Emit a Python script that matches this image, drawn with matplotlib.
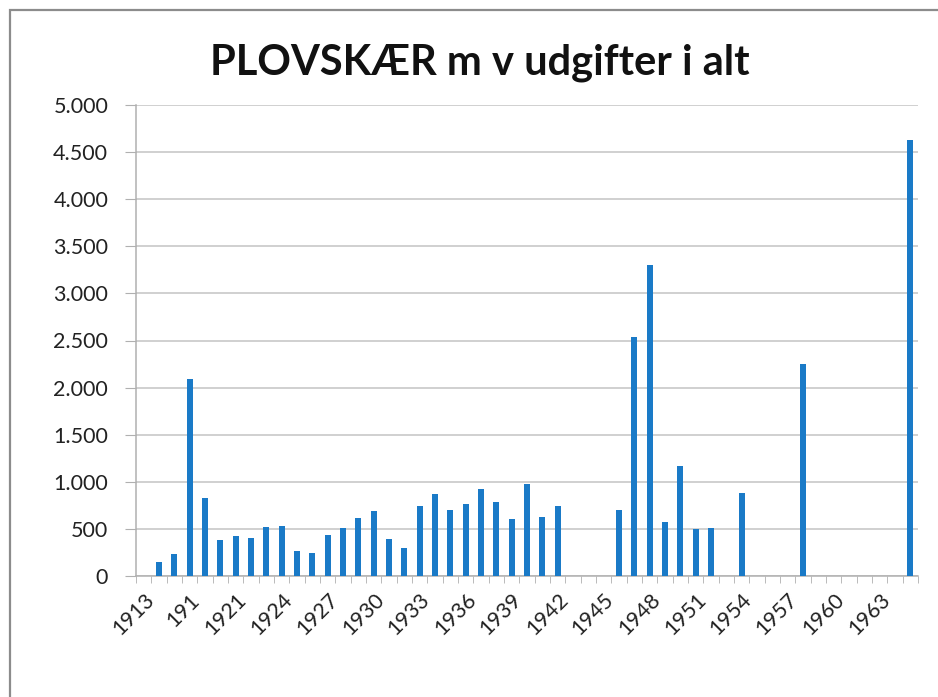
import matplotlib
matplotlib.use("Agg")
import matplotlib.pyplot as plt
import numpy as np
from matplotlib.patches import Rectangle

plt.rcParams['font.family'] = ['Lato', 'DejaVu Sans']

# Categories (years); only every third is labelled in the reference
categories = (["1913", "1914", "1915", "191", "1919", "1920"]
              + [str(y) for y in range(1921, 1966)])
values = [0, 150, 230, 2090, 830, 380, 420, 400, 520, 530,
          270, 245, 430, 510, 620, 690, 390, 300, 740, 870,
          700, 760, 925, 790, 605, 975, 625, 740, 0, 0,
          0, 700, 2535, 3300, 575, 1170, 500, 510, 0, 885,
          0, 0, 0, 2250, 0, 0, 0, 0, 0, 0,
          4630]
title = "PLOVSKÆR m v udgifter i alt"
yticks = [0, 500, 1000, 1500, 2000, 2500, 3000, 3500, 4000, 4500, 5000]
ytick_labels = ["0", "500", "1.000", "1.500", "2.000", "2.500", "3.000",
                "3.500", "4.000", "4.500", "5.000"]

W, H = 938, 697
fig = plt.figure(figsize=(W / 100, H / 100), dpi=100)
fig.patch.set_facecolor("white")

# outer chart frame
fig.patches.append(Rectangle((10 / W, -0.05), 1.1, 1 - 10 / H + 0.05,
                             transform=fig.transFigure, fill=False,
                             edgecolor="#8c8c8c", linewidth=1.6))

ax = fig.add_axes([136 / W, 1 - 576 / H, (918 - 136) / W, (576 - 105) / H])
x = np.arange(len(categories))
ax.bar(x, values, width=0.38, color="#1a7ac7", zorder=3)

ax.set_xlim(-0.5, len(categories) - 0.5)
ax.set_ylim(0, 5000)
ax.set_yticks(yticks)
ax.set_yticklabels(ytick_labels)
ax.yaxis.grid(True, color="#c4c4c4", linewidth=1.1, zorder=0)
ax.set_axisbelow(True)

for s in ["top", "right"]:
    ax.spines[s].set_visible(False)
ax.spines["left"].set_color("#b0b0b0")
ax.spines["bottom"].set_color("#b0b0b0")
ax.spines["left"].set_linewidth(1.1)
ax.spines["bottom"].set_linewidth(1.1)

ax.tick_params(axis="y", length=8, color="#b0b0b0", labelsize=15.5,
               labelcolor="#222222", pad=12)

major = x[::3]
ax.set_xticks(major)
ax.set_xticklabels([categories[i] for i in major], rotation=45,
                   ha="right", rotation_mode="anchor")
ax.tick_params(axis="x", which="major", length=0, labelsize=15.5,
               labelcolor="#222222", pad=10)
ax.set_xticks(np.arange(-0.5, len(categories), 1.0), minor=True)
ax.tick_params(axis="x", which="minor", length=5, color="#b0b0b0",
               direction="out")

fig.text(480 / W, 1 - 63 / H, title, ha="center", va="center",
         fontsize=30, fontweight="bold", color="#111111")

fig.savefig("out.png", dpi=100, facecolor="white")
